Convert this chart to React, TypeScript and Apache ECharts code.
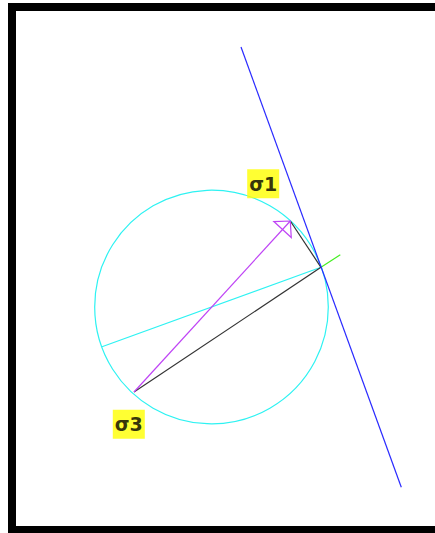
import React, { useEffect, useRef } from "react";
import * as echarts from "echarts";

// Drawing space (pixel-like units, y grows downward)
const extentX = [0, 435];
const extentY = [0, 533];

// Mohr circle
const circleCenter = [211.5, 307];
const circleRadius = 116.8;

// Key points
const sigma3Point = [134, 392];
const sigma1Point = [290.3, 221];
const polePoint = [321, 267.3];
const poleOpposite = [102, 346.7];
const greenEnd = [340.3, 254.7];
const tangentTop = [241, 47];
const tangentBottom = [401.3, 487.3];

// Labels
const labelNames = ["σ1", "σ3"];
const labelPositions = [
  [263.2, 183.7],
  [128.8, 424.2],
];

export default function App() {
  const ref = useRef<HTMLDivElement>(null);
  useEffect(() => {
    document.body.style.margin = "0";
    const chart = echarts.init(ref.current!, undefined, { renderer: "svg" });
    const seg = (name: string, pts: number[][], color: string, z = 2) => ({
      name,
      type: "line",
      data: pts,
      showSymbol: false,
      symbol: "none",
      silent: true,
      z,
      lineStyle: { color, width: 1.2 },
    });
    chart.setOption({
      animation: false,
      backgroundColor: "#ffffff",
      graphic: [
        { type: "rect", z: -2, shape: { x: 8, y: 3, width: 440, height: 540 }, style: { fill: "#000000" } },
        { type: "rect", z: -1, shape: { x: 16, y: 11, width: 430, height: 515 }, style: { fill: "#ffffff" } },
      ],
      grid: { left: 0, right: 0, top: 0, bottom: 0 },
      xAxis: { type: "value", min: extentX[0], max: extentX[1], show: false },
      yAxis: { type: "value", min: extentY[0], max: extentY[1], inverse: true, show: false },
      series: [
        {
          name: "circle",
          type: "custom",
          silent: true,
          clip: false,
          z: 2,
          data: [[circleCenter[0], circleCenter[1], circleRadius]],
          renderItem: (params: any, api: any) => {
            const c = api.coord([api.value(0), api.value(1)]);
            const r = api.size([api.value(2), 0])[0];
            return {
              type: "circle",
              shape: { cx: c[0], cy: c[1], r },
              style: { fill: "none", stroke: "#2ef2f2", lineWidth: 1.2 },
            };
          },
        },
        seg("diameter", [polePoint, poleOpposite], "#2ef2f2"),
        seg("chord3", [sigma3Point, polePoint], "#333333"),
        seg("chord1", [sigma1Point, polePoint], "#333333"),
        seg("extension", [polePoint, greenEnd], "#44ee22"),
        seg("tangent", [tangentTop, tangentBottom], "#2a2aff", 3),
        seg("stress", [sigma3Point, sigma1Point], "#bf44f5"),
        {
          name: "arrowhead",
          type: "custom",
          silent: true,
          clip: false,
          z: 3,
          data: [[sigma3Point[0], sigma3Point[1], sigma1Point[0], sigma1Point[1]]],
          renderItem: (params: any, api: any) => {
            const b = api.coord([api.value(0), api.value(1)]);
            const t = api.coord([api.value(2), api.value(3)]);
            const dx = t[0] - b[0];
            const dy = t[1] - b[1];
            const len = Math.hypot(dx, dy);
            const ux = dx / len;
            const uy = dy / len;
            const px = -uy;
            const py = ux;
            const L = 11.5;
            const W = 11.8;
            const bx = t[0] - L * ux;
            const by = t[1] - L * uy;
            return {
              type: "polygon",
              shape: {
                points: [
                  [t[0], t[1]],
                  [bx + W * px, by + W * py],
                  [bx - W * px, by - W * py],
                ],
              },
              style: { fill: "none", stroke: "#bf44f5", lineWidth: 1.2 },
            };
          },
        },
        {
          name: "labels",
          type: "scatter",
          silent: true,
          symbolSize: 0,
          z: 5,
          data: labelPositions.map((p, i) => ({ value: p, name: labelNames[i] })),
          label: {
            show: true,
            position: "inside",
            formatter: (p: any) => p.name,
            color: "#000000",
            textBorderWidth: 0,
            fontFamily: "DejaVu Sans",
            fontWeight: "bold",
            fontSize: 19,
            lineHeight: 23,
            backgroundColor: "#ffff00",
            padding: [3, 2, 3, 2],
          },
        },
      ],
    });
    return () => chart.dispose();
  }, []);
  return (
    <div
      ref={ref}
      style={{ position: "fixed", left: 0, top: 0, width: 435, height: 533 }}
    />
  );
}
